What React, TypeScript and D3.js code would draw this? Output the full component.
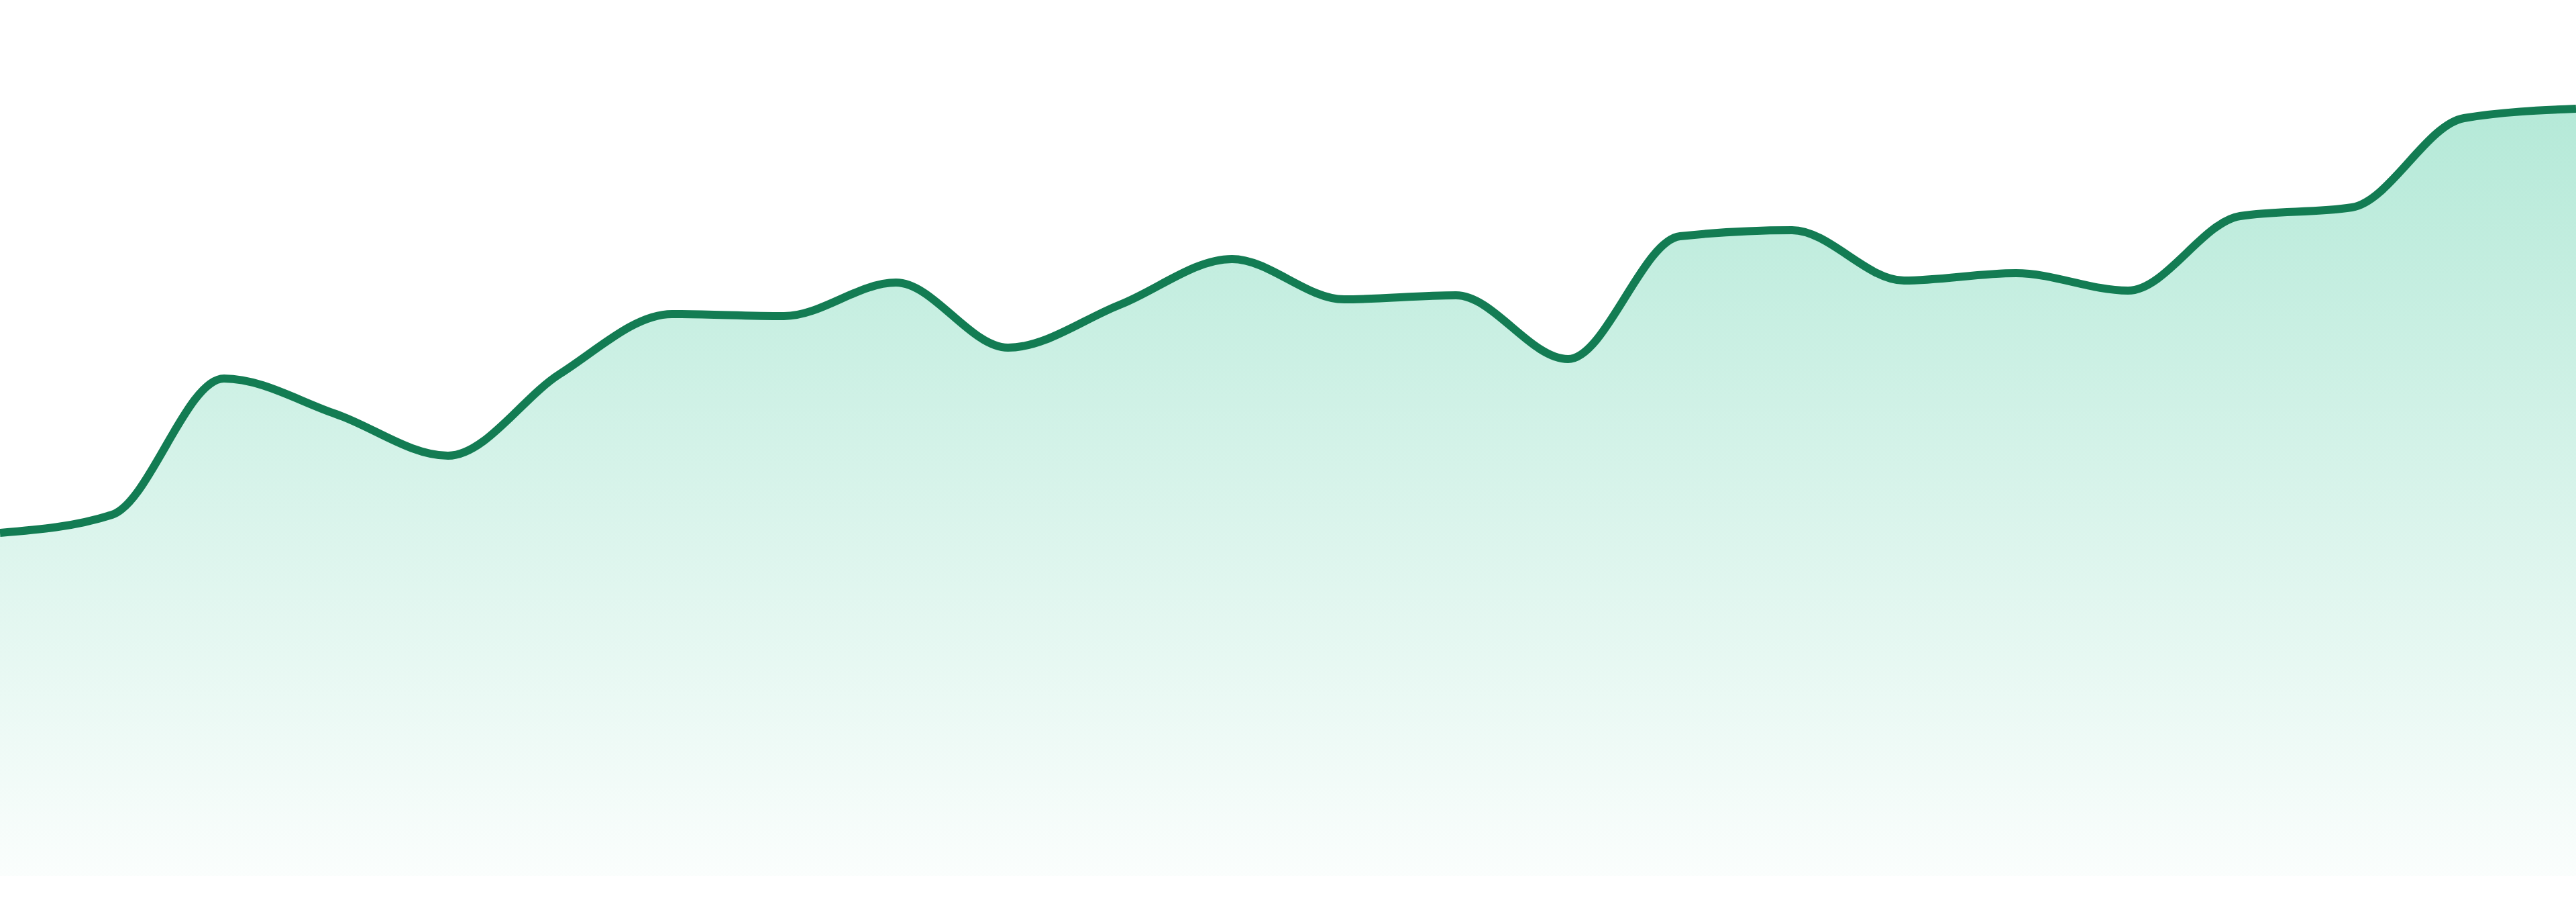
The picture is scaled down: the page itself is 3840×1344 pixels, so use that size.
import React, { useRef, useEffect } from 'react';
import * as d3 from 'd3';

// Chart data
const labels = [
  'D01', 'D02', 'D03', 'D04', 'D05', 'D06', 'D07', 'D08',
  'D09', 'D10', 'D11', 'D12', 'D13', 'D14', 'D15', 'D16',
  'D17', 'D18', 'D19', 'D20', 'D21', 'D22', 'D23', 'D24',
];
const values = [
  51.1, 53.8, 74.1, 68.8, 62.6, 74.8, 83.7, 83.4,
  88.4, 78.7, 85.1, 91.9, 85.9, 86.5, 77.0, 95.3,
  96.2, 88.7, 89.8, 87.2, 98.3, 99.6, 112.9, 114.3,
];
const valueDomain = [0, 120];

const lineColor = '#137c53';
const fillColor = '#10b981';

const AreaChart: React.FC<{ width?: number; height?: number }> = ({
  width = 3840,
  height = 1344,
}) => {
  const svgRef = useRef<SVGSVGElement>(null);

  useEffect(() => {
    if (!svgRef.current) return;
    document.body.style.margin = '0';

    const svg = d3.select(svgRef.current);
    svg.selectAll('*').remove();
    svg.attr('width', width).attr('height', height);

    const baseline = 1305;

    const xScale = d3
      .scalePoint<string>()
      .domain(labels)
      .range([0, width]);

    const yScale = d3
      .scaleLinear()
      .domain(valueDomain)
      .range([baseline, 105]);

    const data = labels.map((l, i) => ({ label: l, value: values[i] }));

    // gradient fill
    const defs = svg.append('defs');
    const grad = defs
      .append('linearGradient')
      .attr('id', 'areaFill')
      .attr('gradientUnits', 'userSpaceOnUse')
      .attr('x1', 0)
      .attr('x2', 0)
      .attr('y1', yScale(d3.max(values) as number))
      .attr('y2', baseline);
    grad.append('stop').attr('offset', '0%').attr('stop-color', fillColor).attr('stop-opacity', 0.31);
    grad.append('stop').attr('offset', '100%').attr('stop-color', fillColor).attr('stop-opacity', 0.02);

    const area = d3
      .area<{ label: string; value: number }>()
      .x((d) => xScale(d.label) as number)
      .y0(baseline)
      .y1((d) => yScale(d.value))
      .curve(d3.curveMonotoneX);

    const line = d3
      .line<{ label: string; value: number }>()
      .x((d) => xScale(d.label) as number)
      .y((d) => yScale(d.value))
      .curve(d3.curveMonotoneX);

    svg
      .append('path')
      .datum(data)
      .attr('d', area)
      .attr('fill', 'url(#areaFill)');

    svg
      .append('path')
      .datum(data)
      .attr('d', line)
      .attr('fill', 'none')
      .attr('stroke', lineColor)
      .attr('stroke-width', 12)
      .attr('stroke-linejoin', 'round');
  }, [width, height]);

  return <svg ref={svgRef} style={{ display: 'block' }}></svg>;
};

export default function App() {
  return <AreaChart />;
}
